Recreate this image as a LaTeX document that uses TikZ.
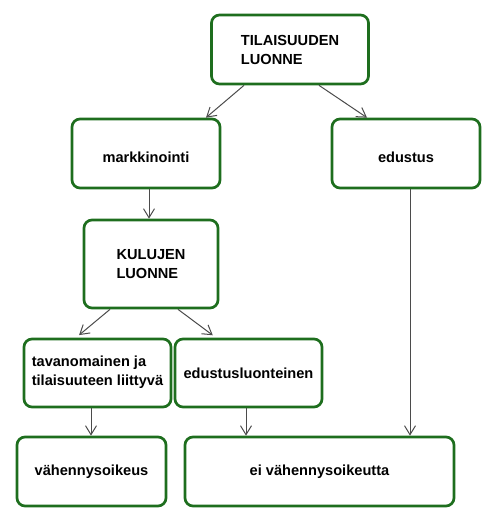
\documentclass[tikz,border=0pt]{standalone}
\usepackage{fontspec}
\setmainfont{Liberation Sans}
\usetikzlibrary{arrows.meta}

\definecolor{boxgreen}{RGB}{30,110,30}
\definecolor{linkgray}{RGB}{75,75,75}

\begin{document}
\begin{tikzpicture}
            [x=1pt, y=-1pt,
             box/.style={draw=boxgreen, line width=2.7pt, rounded corners=8pt,
                         minimum height=69pt, align=left,
                         font=\bfseries\fontsize{14.6}{19}\selectfont},
             link/.style={draw=linkgray, line width=1pt,
                          -{Straight Barb[length=9pt,width=11pt]}}]
            % Fix the page size
            \useasboundingbox (0,0) rectangle (494,527);

            % Draw the boxes
            \node[box, minimum width=157pt] (tilaisuus) at (290,49.5) {TILAISUUDEN\\LUONNE};  % Top box
            \node[box, minimum width=148pt, text height=18pt] (markkinointi) at (146,153.5) {markkinointi};
            \node[box, minimum width=148pt, text height=18pt] (edustus) at (406,153.5) {edustus};
            \node[box, minimum width=134pt, minimum height=88pt] (kulut) at (151,264) {KULUJEN\\LUONNE};
            \node[box, minimum width=147pt, minimum height=68pt, text height=28pt] (tavanomainen) at (97.5,373) {tavanomainen ja\\tilaisuuteen liittyvä};
            \node[box, minimum width=147pt, minimum height=68pt] (luonteinen) at (248.5,373) {edustusluonteinen};
            \node[box, minimum width=149pt] (oikeus) at (91.5,471.5) {vähennysoikeus};      % Bottom left
            \node[box, minimum width=269pt] (eioikeutta) at (319.5,471.5) {ei vähennysoikeutta};  % Bottom right

            % Draw the arrows
            \draw[link] ([xshift=-46pt]tilaisuus.south) -- ([xshift=60pt]markkinointi.north);
            \draw[link] ([xshift=29pt]tilaisuus.south) -- ([xshift=-39pt]edustus.north);
            \draw[link] ([xshift=3pt]markkinointi.south) -- ([xshift=-2pt]kulut.north);
            \draw[link, shorten >=4pt] ([xshift=-41pt]kulut.south) -- ([xshift=-21.5pt]tavanomainen.north);
            \draw[link, shorten >=4pt] ([xshift=27pt]kulut.south) -- ([xshift=-32.5pt]luonteinen.north);
            \draw[link] ([xshift=-6.5pt]tavanomainen.south) -- ([xshift=-0.5pt]oikeus.north);
            \draw[link] ([xshift=-2.5pt]luonteinen.south) -- ([xshift=-73.5pt]eioikeutta.north);
            \draw[link] ([xshift=4pt]edustus.south) -- ([xshift=90.5pt]eioikeutta.north);
        \end{tikzpicture}
\end{document}
